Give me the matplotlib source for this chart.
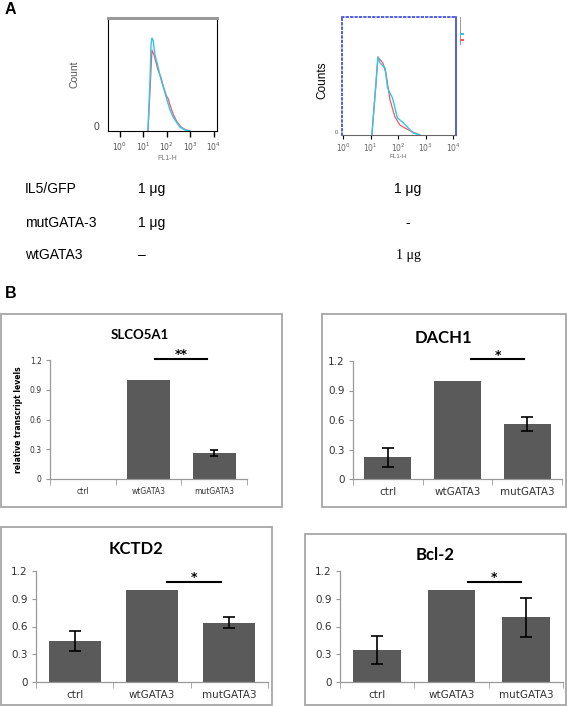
import numpy as np
import matplotlib
matplotlib.use("Agg")
import matplotlib.pyplot as plt
from matplotlib.patches import Rectangle
from matplotlib.ticker import LogLocator, NullFormatter, FixedLocator

# ---------------- data ----------------
categories = ["ctrl", "wtGATA3", "mutGATA3"]

slco5a1_vals = [0.0, 1.0, 0.26]
slco5a1_err = [0.0, 0.0, 0.03]
dach1_vals = [0.22, 1.0, 0.56]
dach1_err = [0.10, 0.0, 0.07]
kctd2_vals = [0.44, 1.0, 0.64]
kctd2_err = [0.11, 0.0, 0.06]
bcl2_vals = [0.35, 1.0, 0.70]
bcl2_err = [0.15, 0.0, 0.21]

ytick_vals = [0, 0.3, 0.6, 0.9, 1.2]
ytick_labels = ["0", "0.3", "0.6", "0.9", "1.2"]

# flow cytometry histograms (log10 FL1-H, counts)
h1_cyan_log = [1.21, 1.30, 1.34, 1.38, 1.43, 1.51, 1.60, 1.72, 1.81, 1.94, 2.02, 2.15, 2.28, 2.45, 2.57, 2.79, 3.00]
h1_cyan_cnt = [0, 51, 86, 93, 91, 76, 68, 56, 48, 38, 31, 21, 14, 8, 4, 1, 0]
h1_red_log = [1.21, 1.30, 1.38, 1.47, 1.55, 1.64, 1.77, 1.85, 1.94, 2.02, 2.06, 2.15, 2.28, 2.45, 2.62, 2.83, 3.00]
h1_red_cnt = [0, 41, 81, 76, 69, 61, 53, 46, 39, 34, 33, 26, 17, 9, 4, 1, 0]

h2_cyan_log = [1.05, 1.20, 1.27, 1.35, 1.53, 1.62, 1.80, 1.98, 2.16, 2.55, 2.80]
h2_cyan_cnt = [0, 52, 78, 72, 67, 47, 37, 17, 13, 2, 0]
h2_red_log = [1.05, 1.20, 1.27, 1.45, 1.56, 1.71, 1.89, 2.07, 2.25, 2.53, 2.80]
h2_red_cnt = [0, 52, 78, 72, 62, 35, 18, 10, 7, 3, 0]

table_rows = ["IL5/GFP", "mutGATA-3", "wtGATA3"]
table_col1 = ["1 \u03bcg", "1 \u03bcg", "\u2013"]
table_col2 = ["1 \u03bcg", "-", "1 \u03bcg"]

# ---------------- figure ----------------
W, H = 567, 706
fig = plt.figure(figsize=(W / 100, H / 100), dpi=100)
fig.patch.set_facecolor("white")


def ax_px(x0, y0, x1, y1):
    return fig.add_axes([x0 / W, 1 - y1 / H, (x1 - x0) / W, (y1 - y0) / H])


def txt(x, y, s, **kw):
    kw.setdefault("ha", "center")
    kw.setdefault("va", "center")
    fig.text(x / W, 1 - y / H, s, **kw)


def frame(x0, y0, x1, y1, color="#a6a6a6", lw=1.3):
    fig.add_artist(Rectangle((x0 / W, 1 - y1 / H), (x1 - x0) / W, (y1 - y0) / H,
                             transform=fig.transFigure, fill=False, ec=color, lw=lw))


txt(5, 10, "A", ha="left", fontsize=11.5, fontweight="bold", family="Liberation Sans")
txt(5, 294, "B", ha="left", fontsize=11.5, fontweight="bold", family="Liberation Sans")

# ---- histogram 1 ----
ax1 = ax_px(108, 18, 217, 131)
ax1.plot(10 ** np.array(h1_red_log), h1_red_cnt, color="#f05a5a", lw=0.9)
ax1.plot(10 ** np.array(h1_cyan_log), h1_cyan_cnt, color="#33c4ee", lw=1.0)
lo1 = 1 + (108 - 143) / 23.5
hi1 = 1 + (217 - 143) / 23.5
ax1.set_xscale("log")
ax1.set_xlim(10 ** lo1, 10 ** hi1)
ax1.set_ylim(0, 113)
ax1.set_yticks([])
ax1.xaxis.set_major_locator(FixedLocator([1, 10, 100, 1000, 10000]))
ax1.xaxis.set_minor_locator(LogLocator(base=10, subs=np.arange(2, 10)))
ax1.xaxis.set_minor_formatter(NullFormatter())
ax1.set_xticklabels([r"$10^0$", r"$10^1$", r"$10^2$", r"$10^3$", r"$10^4$"])
ax1.tick_params(axis="x", which="major", direction="out", length=4, width=1, labelsize=5.5,
                labelcolor="#555555", pad=3)
ax1.tick_params(axis="x", which="minor", direction="out", length=3, width=0.8)
ax1.spines["top"].set_color("#999999")
ax1.spines["top"].set_linewidth(2.2)
for s in ["left", "right", "bottom"]:
    ax1.spines[s].set_linewidth(0.8)
txt(75, 74, "Count", rotation=90, fontsize=7.5, color="#555555", family="Liberation Sans")
txt(97, 127, "0", fontsize=7.5, color="#444444", family="Liberation Sans")
txt(167, 159, "FL1-H", fontsize=5, color="#777777", family="Liberation Sans")

# ---- histogram 2 ----
ax2 = ax_px(342, 17, 456, 135)
ax2.plot(10 ** np.array(h2_red_log), h2_red_cnt, color="#f05a5a", lw=0.9)
ax2.plot(10 ** np.array(h2_cyan_log), h2_cyan_cnt, color="#33c4ee", lw=1.0)
lo2 = (342 - 343) / 27.5
hi2 = (456 - 343) / 27.5
ax2.set_xscale("log")
ax2.set_xlim(10 ** lo2, 10 ** hi2)
ax2.set_ylim(0, 118)
ax2.set_yticks([])
ax2.xaxis.set_major_locator(FixedLocator([1, 10, 100, 1000, 10000]))
ax2.xaxis.set_minor_locator(LogLocator(base=10, subs=np.arange(2, 10)))
ax2.xaxis.set_minor_formatter(NullFormatter())
ax2.set_xticklabels([r"$10^0$", r"$10^1$", r"$10^2$", r"$10^3$", r"$10^4$"])
ax2.tick_params(axis="x", which="major", direction="out", length=3, width=0.8, labelsize=5.5,
                labelcolor="#666666", pad=1.5)
ax2.tick_params(axis="x", which="minor", direction="out", length=2, width=0.6)
for s in ["left", "right", "top"]:
    ax2.spines[s].set_color("#3344dd")
    ax2.spines[s].set_linewidth(1.2)
ax2.spines["left"].set_linestyle(":")
ax2.spines["top"].set_linestyle(":")
ax2.spines["bottom"].set_linewidth(0.8)
ax2.spines["bottom"].set_color("#666666")
txt(322, 80, "Counts", rotation=90, fontsize=8.5, color="black", family="Liberation Sans")
txt(336, 133, "0", fontsize=4, color="#444444", family="Liberation Sans")
txt(398, 157, "FL1-H", fontsize=4.5, color="#666666", family="Liberation Sans")
# small legend glyphs
fig.add_artist(plt.Line2D([460 / W, 460 / W], [1 - 17 / H, 1 - 44 / H], color="#888888", lw=0.6))
fig.add_artist(plt.Line2D([461 / W, 463 / W], [1 - 34 / H, 1 - 34 / H], color="#33c4ee", lw=1.5))
fig.add_artist(plt.Line2D([461 / W, 463 / W], [1 - 40 / H, 1 - 40 / H], color="#f05a5a", lw=1.5))

# ---- table text ----
row_y = [189, 223, 255]
for i, r in enumerate(table_rows):
    txt(25, row_y[i], r, ha="left", fontsize=10, family="Liberation Sans")
    txt(138, row_y[i], table_col1[i], ha="left", fontsize=10, family="Liberation Sans")
    fam2 = "Liberation Serif" if i == 2 else "Liberation Sans"
    txt(408, row_y[i], table_col2[i], ha="center", fontsize=10, family=fam2)


# ---- bar panels ----
def bar_panel(box, axbox, vals, errs, title, title_xy, title_fs, sig, star, star_y,
              tick_fs, ylabel=None, capsize=4, barw=0.65):
    frame(*box)
    ax = ax_px(*axbox)
    xs = np.arange(len(categories))
    ax.bar(xs, vals, width=barw, color="#5a5a5a", zorder=2)
    for x, v, e in zip(xs, vals, errs):
        if e > 0:
            ax.errorbar(x, v, yerr=e, fmt="none", ecolor="black", elinewidth=1.2,
                        capsize=capsize, capthick=1.2, zorder=3)
    ax.set_xlim(-0.5, 2.5)
    ax.set_ylim(0, 1.2)
    ax.set_yticks(ytick_vals)
    ax.set_yticklabels(ytick_labels)
    ax.set_xticks(xs)
    ax.set_xticklabels(categories)
    ax.xaxis.set_minor_locator(FixedLocator([-0.5, 0.5, 1.5, 2.5]))
    ax.tick_params(axis="x", which="major", length=0, labelsize=tick_fs, colors="#333333", pad=6)
    ax.tick_params(axis="x", which="minor", length=4, direction="out", color="#999999")
    ax.tick_params(axis="y", length=3, direction="out", color="#999999",
                   labelsize=tick_fs, labelcolor="#333333", pad=3)
    for s in ["top", "right"]:
        ax.spines[s].set_visible(False)
    for s in ["left", "bottom"]:
        ax.spines[s].set_color("#999999")
        ax.spines[s].set_linewidth(0.9)
    ax.patch.set_alpha(0)
    ax.plot(sig[0:2], [sig[2], sig[2]], color="black", lw=1.5, clip_on=False)
    ax.text((sig[0] + sig[1]) / 2, star_y, star, ha="center", va="center",
            fontsize=9, fontweight="bold", clip_on=False)
    txt(title_xy[0], title_xy[1], title, fontsize=title_fs, fontweight="bold", family="Lato")
    if ylabel:
        ax.set_ylabel(ylabel, fontsize=5.5, fontweight="bold", labelpad=5)
    return ax


bar_panel((1, 314, 282, 507), (50, 360, 247, 479), slco5a1_vals, slco5a1_err,
          "SLCO5A1", (140, 335), 9.5, (1.10, 1.89, 1.21), "**", 1.26, 5.5,
          ylabel="relative transcript levels", capsize=3, barw=0.65)
bar_panel((322, 314, 566, 507), (353, 361, 562, 479), dach1_vals, dach1_err,
          "DACH1", (443, 338), 12, (1.20, 1.95, 1.22), "*", 1.26, 7.5, barw=0.67)
bar_panel((1, 527, 272, 705), (36, 571, 268, 682), kctd2_vals, kctd2_err,
          "KCTD2", (136, 549), 12, (1.20, 1.89, 1.08), "*", 1.13, 7.5, barw=0.675)
bar_panel((305, 534, 566, 705), (340, 571, 563, 682), bcl2_vals, bcl2_err,
          "Bcl-2", (435, 555), 12, (1.22, 1.93, 1.08), "*", 1.13, 7.5, barw=0.64)

fig.savefig("out.png", dpi=100, facecolor="white")
